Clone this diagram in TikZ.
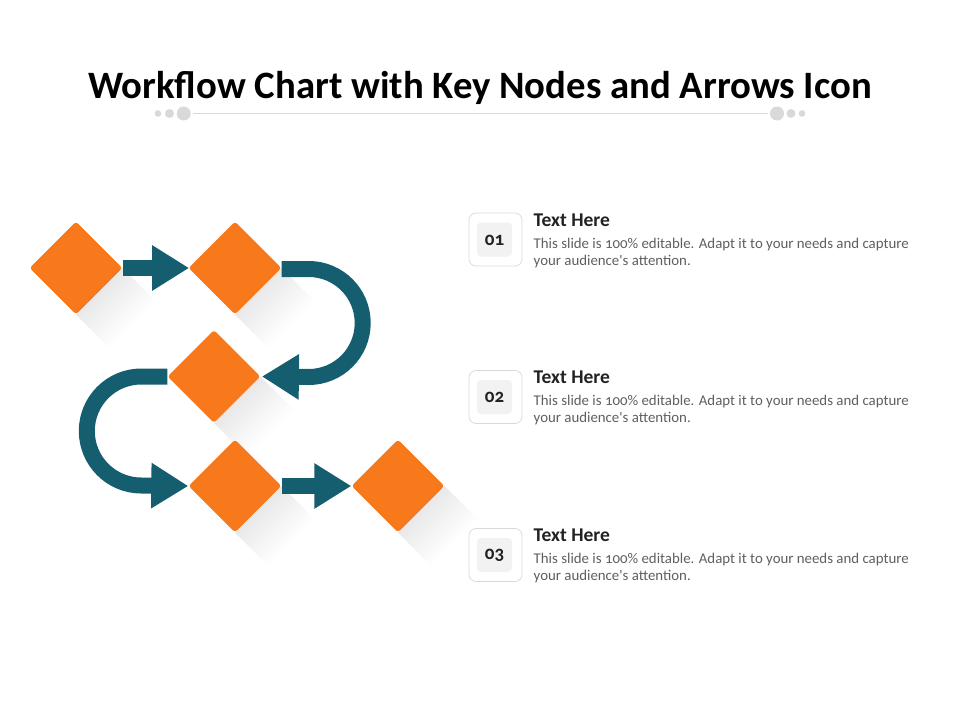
\documentclass[tikz,border=0pt]{standalone}
\usepackage{fontspec}
\setmainfont{Carlito}
\usetikzlibrary{arrows.meta,shapes.geometric,calc}
\pgfdeclarelayer{back}
\pgfsetlayers{back,main}
\definecolor{orangeD}{HTML}{F7791B}
\definecolor{tealA}{HTML}{155E6F}
\definecolor{ruleG}{HTML}{D9D9D9}
\definecolor{boxG}{HTML}{F2F2F2}
\definecolor{bodyG}{HTML}{5F5F5F}
\definecolor{headK}{HTML}{222222}
\pgfdeclareverticalshading{castfade}{100bp}{color(0bp)=(white); color(42bp)=(white); color(74bp)=(black!11); color(100bp)=(black!11)}
\tikzset{
  x=1pt,y=-1pt,
  keynode/.style={diamond,fill=orangeD,inner sep=0pt,minimum width=93pt,minimum height=93pt,rounded corners=3pt},
  flowarrow/.style={draw=tealA,line width=15.5pt,-{Triangle[length=37pt,width=43pt,fill=tealA]}},
  curvearrow/.style={flowarrow,line width=16pt},
  dotg/.style={fill=ruleG},
  numouter/.style={draw=ruleG,fill=white,line width=0.7pt,rounded corners=7pt,minimum width=53pt,minimum height=53pt,inner sep=0pt},
  numinner/.style={fill=boxG,rounded corners=4pt,minimum width=35pt,minimum height=34pt,inner sep=0pt,text=headK},
  numtext/.style={inner sep=0pt,font=\fontsize{19}{20}\selectfont\bfseries\addfontfeatures{Numbers=OldStyle},text=headK},
  headtext/.style={anchor=west,inner sep=0pt,font=\fontsize{19.5}{22}\selectfont\bfseries,text=headK},
  bodytext/.style={anchor=north west,inner sep=0pt,align=left,font=\fontsize{14.85}{17}\selectfont\addfontfeatures{Numbers=OldStyle},text=bodyG},
}
\newcommand{\castshadow}[1]{\path[shading=castfade,shading angle=45]
  (#1.east) -- (#1.south) -- ($(#1.south)+(46,46)$) -- ($(#1.east)+(46,46)$) -- cycle;}
\begin{document}
\begin{tikzpicture}
\useasboundingbox (0,0) rectangle (960,720);
\node[inner sep=0pt,font=\fontsize{38.75}{44}\selectfont\bfseries,text=black] (title) at (480,88) {Workflow Chart with Key Nodes and Arrows Icon};
\coordinate (ruleL) at (193,113.5);
\coordinate (ruleR) at (768,113.5);
\draw[ruleG,line width=0.8pt] (ruleL) -- (ruleR);
\fill[dotg] (158,113.5) circle[radius=3.3];
\fill[dotg] (169.5,113.5) circle[radius=4.5];
\fill[dotg] (183.7,113.5) circle[radius=7];
\fill[dotg] (777,113.5) circle[radius=7];
\fill[dotg] (791,113.5) circle[radius=4.5];
\fill[dotg] (802,113.5) circle[radius=3.3];
\node[keynode] (k1) at (76,268) {};
\node[keynode] (k2) at (235,268) {};
\node[keynode] (k3) at (214,376.5) {};
\node[keynode] (k4) at (235,486) {};
\node[keynode] (k5) at (398,486) {};
\begin{pgfonlayer}{back}
\castshadow{k1}
\castshadow{k2}
\castshadow{k3}
\castshadow{k4}
\castshadow{k5}
\draw[flowarrow,shorten >=-0.8pt] (k1.east) -- (k2.west);
\draw[flowarrow] (k4.east) -- (k5.west);
\draw[curvearrow,shorten >=1.2pt] (k2.east) ++(0,1) -- ++(27,0) arc[start angle=-90,end angle=90,radius=54] -- (k3.east);
\draw[curvearrow] (k3.west) -- ++(-26,0) arc[start angle=-90,end angle=-270,radius=54.5] -- (k4.west);
\end{pgfonlayer}
\foreach \n/\y in {01/239.5,02/397,03/555}{
  \node[numouter] (o\n) at (495.5,\y) {};
  \node[numinner] (i\n) at (494.5,\y) {};
  \node[numtext] (t\n) at (494.5,\y+0.8) {\n};
  \node[headtext] (h\n) at (533.5,\y-19.5) {Text Here};
  \node[bodytext] (b\n) at (533.5,\y-2) {This slide is 100\% editable. Adapt it to your needs and capture\\your audience\textquotesingle s attention.};
}
\end{tikzpicture}
\end{document}
